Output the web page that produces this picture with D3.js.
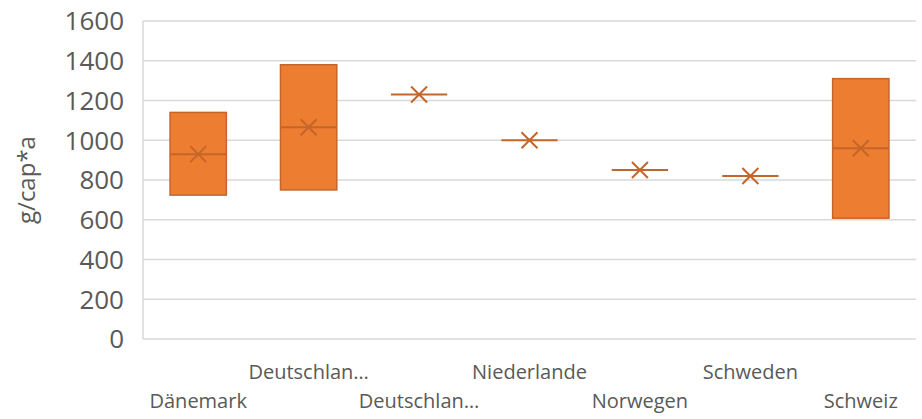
<!DOCTYPE HTML>
<html lang="de">
<head>
<meta charset="utf-8" />
<title>Box Plot</title>
<style>
  body { margin: 0; background: #fff; }
  text { font-family: "Open Sans", Lato, sans-serif; fill: #595959; }
</style>
</head>
<body>
<div id="chart"></div>
<script src="https://d3js.org/d3.v7.min.js"></script>
<script>
  const categories = ['Dänemark', 'Deutschlan…', 'Deutschlan…', 'Niederlande', 'Norwegen', 'Schweden', 'Schweiz'];
  const lower = [724, 750, 1230, 1000, 850, 820, 608];
  const upper = [1140, 1380, 1230, 1000, 850, 820, 1310];
  const median = [930, 1065, 1230, 1000, 850, 820, 960];
  const mean = [930, 1065, 1230, 1000, 850, 820, 960];
  const yTicks = [0, 200, 400, 600, 800, 1000, 1200, 1400, 1600];

  const width = 922;
  const height = 419;
  const margin = { top: 21, right: 6, bottom: 80, left: 143 };
  const fill = '#ED7D31';
  const stroke = '#C4662A';

  const svg = d3.select('#chart')
    .append('svg')
    .attr('width', width)
    .attr('height', height);

  const ids = categories.map((d, i) => i);
  const x = d3.scalePoint()
    .domain(ids)
    .range([margin.left, width - margin.right])
    .padding(0.5);

  const y = d3.scaleLinear()
    .domain([0, 1600])
    .range([height - margin.bottom, margin.top]);

  const boxW = x.step() * 0.51;

  // gridlines
  svg.append('g')
    .selectAll('line')
    .data(yTicks)
    .enter()
    .append('line')
    .attr('x1', margin.left)
    .attr('x2', width - margin.right)
    .attr('y1', d => y(d))
    .attr('y2', d => y(d))
    .attr('stroke', '#D9D9D9')
    .attr('stroke-width', 1.5);

  svg.append('line')
    .attr('x1', margin.left)
    .attr('x2', margin.left)
    .attr('y1', y(1600))
    .attr('y2', y(0))
    .attr('stroke', '#D9D9D9')
    .attr('stroke-width', 1.5);

  // y tick labels
  svg.append('g')
    .selectAll('text')
    .data(yTicks)
    .enter()
    .append('text')
    .attr('x', margin.left - 19)
    .attr('y', d => y(d))
    .attr('dy', '0.36em')
    .attr('text-anchor', 'end')
    .style('font-size', '26px')
    .text(d => d);

  svg.append('text')
    .attr('transform', `translate(35, ${(y(0) + y(1600)) / 2}) rotate(-90)`)
    .attr('text-anchor', 'middle')
    .style('font-size', '24px')
    .text('g/cap*a');

  // x labels, staggered
  svg.append('g')
    .selectAll('text')
    .data(ids)
    .enter()
    .append('text')
    .attr('x', d => x(d))
    .attr('y', d => d % 2 === 0 ? 408 : 379)
    .attr('text-anchor', 'middle')
    .style('font-size', '20px')
    .text(d => categories[d]);

  const g = svg.append('g')
    .selectAll('g')
    .data(ids)
    .enter()
    .append('g');

  g.filter(d => upper[d] > lower[d])
    .append('rect')
    .attr('x', d => x(d) - boxW / 2)
    .attr('y', d => y(upper[d]))
    .attr('width', boxW)
    .attr('height', d => y(lower[d]) - y(upper[d]))
    .attr('fill', fill)
    .attr('stroke', stroke)
    .attr('stroke-width', 1.5);

  g.append('line')
    .attr('x1', d => x(d) - boxW / 2)
    .attr('x2', d => x(d) + boxW / 2)
    .attr('y1', d => y(median[d]))
    .attr('y2', d => y(median[d]))
    .attr('stroke', stroke)
    .attr('stroke-width', 2);

  const m = 8;
  g.append('path')
    .attr('d', d => {
      const cx = x(d), cy = y(mean[d]);
      return `M${cx - m},${cy - m}L${cx + m},${cy + m}M${cx - m},${cy + m}L${cx + m},${cy - m}`;
    })
    .attr('stroke', stroke)
    .attr('stroke-width', 2)
    .attr('fill', 'none');
</script>
</body>
</html>
